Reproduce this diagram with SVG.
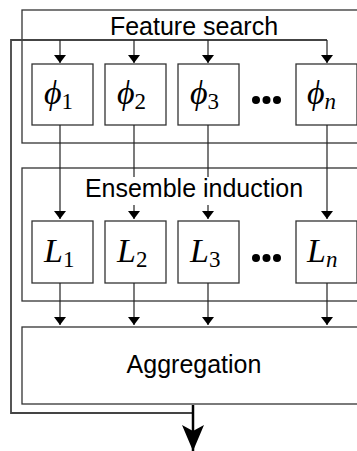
<svg xmlns="http://www.w3.org/2000/svg" width="357" height="451" viewBox="0 0 357 451">
<defs>
<marker id="ah" viewBox="0 0 8 12" refX="8" refY="6" markerWidth="8" markerHeight="12" markerUnits="userSpaceOnUse" orient="auto">
<path d="M0,0 L8,6 L0,12 z" fill="#000"/>
</marker>
<marker id="big" viewBox="0 0 26 22" refX="26" refY="11" markerWidth="26" markerHeight="22" markerUnits="userSpaceOnUse" orient="auto">
<path d="M0,0 L26,11 L0,22 L6,11 z" fill="#000"/>
</marker>
</defs>
<style>
.frame{fill:none;stroke:#333;stroke-width:1.3}
.box{fill:#fff;stroke:#333;stroke-width:1.3}
.ln{fill:none;stroke:#222;stroke-width:1.2}
.lbl{font-family:"Liberation Sans",Arial,sans-serif;font-size:25px;fill:#000;text-anchor:middle}
.m{font-family:"Liberation Serif","DejaVu Serif",serif;font-style:italic;font-size:34px;fill:#000}
.s{font-family:"Liberation Serif",serif;font-style:normal;font-size:23px}
.si{font-family:"Liberation Serif",serif;font-style:italic;font-size:23px}
</style>
<g id="feature-search">
<rect class="frame" x="22" y="10" width="344" height="133"/>
<text class="lbl" x="194" y="35">Feature search</text>
</g>
<g id="ensemble-induction">
<rect class="frame" x="22" y="168" width="344" height="133"/>
<text class="lbl" x="194" y="197">Ensemble induction</text>
</g>
<g id="aggregation">
<rect class="box" x="22" y="327" width="344" height="77" stroke="#000"/>
<text class="lbl" x="194" y="373">Aggregation</text>
</g>
<g id="phi1"><rect class="box" x="32" y="64" width="61" height="61"/><text class="m" x="44" y="104">ϕ<tspan class="s" dy="5">1</tspan></text></g>
<g id="phi2"><rect class="box" x="105" y="64" width="61" height="61"/><text class="m" x="117" y="104">ϕ<tspan class="s" dy="5">2</tspan></text></g>
<g id="phi3"><rect class="box" x="178" y="64" width="61" height="61"/><text class="m" x="190" y="104">ϕ<tspan class="s" dy="5">3</tspan></text></g>
<g id="phin"><rect class="box" x="296" y="64" width="61" height="61"/><text class="m" x="307" y="104">ϕ<tspan class="si" dy="5">n</tspan></text></g>
<g id="dots1"><circle cx="256" cy="100" r="4"/><circle cx="266.5" cy="100" r="4"/><circle cx="277" cy="100" r="4"/></g>
<g id="L1"><rect class="box" x="32" y="221" width="61" height="62"/><text class="m" x="44" y="262">L<tspan class="s" dy="5">1</tspan></text></g>
<g id="L2"><rect class="box" x="105" y="221" width="61" height="62"/><text class="m" x="117" y="262">L<tspan class="s" dy="5">2</tspan></text></g>
<g id="L3"><rect class="box" x="178" y="221" width="61" height="62"/><text class="m" x="190" y="262">L<tspan class="s" dy="5">3</tspan></text></g>
<g id="Ln"><rect class="box" x="296" y="221" width="61" height="62"/><text class="m" x="307" y="262">L<tspan class="si" dy="5">n</tspan></text></g>
<g id="dots2"><circle cx="256" cy="258" r="4"/><circle cx="266.5" cy="258" r="4"/><circle cx="277" cy="258" r="4"/></g>
<g id="connectors">
<path d="M193,413 H11 V40 H327" fill="none" stroke="#444" stroke-width="1.8"/>
<path class="ln" d="M60,40 V63" marker-end="url(#ah)"/>
<path class="ln" d="M134,40 V63" marker-end="url(#ah)"/>
<path class="ln" d="M208,40 V63" marker-end="url(#ah)"/>
<path class="ln" d="M327,40 V63" marker-end="url(#ah)"/>
<path class="ln" d="M60,125 V219" marker-end="url(#ah)"/>
<path class="ln" d="M134,125 V177"/>
<path class="ln" d="M134,205 V219" marker-end="url(#ah)"/>
<path class="ln" d="M208,125 V177"/>
<path class="ln" d="M208,205 V219" marker-end="url(#ah)"/>
<path class="ln" d="M327,125 V219" marker-end="url(#ah)"/>
<path class="ln" d="M60,283 V325" marker-end="url(#ah)"/>
<path class="ln" d="M134,283 V325" marker-end="url(#ah)"/>
<path class="ln" d="M208,283 V325" marker-end="url(#ah)"/>
<path class="ln" d="M327,283 V325" marker-end="url(#ah)"/>
<path d="M193,405 V451" fill="none" stroke="#000" stroke-width="2.5" marker-end="url(#big)"/>
</g>
</svg>
